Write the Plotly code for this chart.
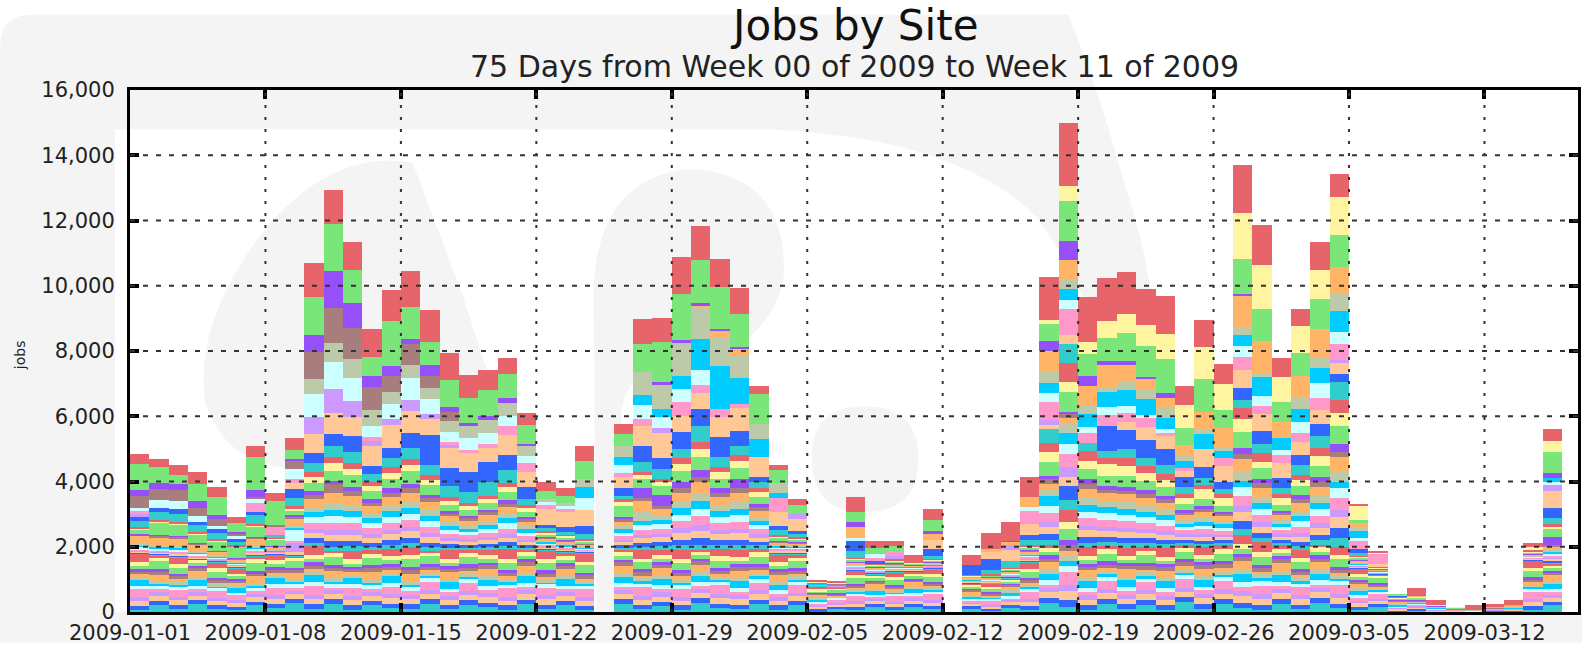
import plotly.graph_objects as go

# ---------------- categories ----------------
dates = [
    "2009-01-01","2009-01-02","2009-01-03","2009-01-04","2009-01-05","2009-01-06","2009-01-07",
    "2009-01-08","2009-01-09","2009-01-10","2009-01-11","2009-01-12","2009-01-13","2009-01-14",
    "2009-01-15","2009-01-16","2009-01-17","2009-01-18","2009-01-19","2009-01-20","2009-01-21",
    "2009-01-22","2009-01-23","2009-01-24","2009-01-25","2009-01-26","2009-01-27","2009-01-28",
    "2009-01-29","2009-01-30","2009-01-31","2009-02-01","2009-02-02","2009-02-03","2009-02-04",
    "2009-02-05","2009-02-06","2009-02-07","2009-02-08","2009-02-09","2009-02-10","2009-02-11",
    "2009-02-12","2009-02-13","2009-02-14","2009-02-15","2009-02-16","2009-02-17","2009-02-18",
    "2009-02-19","2009-02-20","2009-02-21","2009-02-22","2009-02-23","2009-02-24","2009-02-25",
    "2009-02-26","2009-02-27","2009-02-28","2009-03-01","2009-03-02","2009-03-03","2009-03-04",
    "2009-03-05","2009-03-06","2009-03-07","2009-03-08","2009-03-09","2009-03-10","2009-03-11",
    "2009-03-12","2009-03-13","2009-03-14","2009-03-15","2009-03-16",
]
x_tick_vals = ["2009-01-01","2009-01-08","2009-01-15","2009-01-22","2009-01-29","2009-02-05",
               "2009-02-12","2009-02-19","2009-02-26","2009-03-05","2009-03-12"]
x_tick_text = x_tick_vals
y_tick_vals = [0, 2000, 4000, 6000, 8000, 10000, 12000, 14000, 16000]
y_tick_text = ["0", "2,000", "4,000", "6,000", "8,000", "10,000", "12,000", "14,000", "16,000"]

# ---------------- series values (jobs per day) ----------------
# largest sites (top of the stack)
site_a01 = [310,230,300,380,320,180,323,250,384,1030,1030,879,858,960,1110,980,828,717,606,495,374,250,250,455,0,300,758,737,1111,1030,858,778,252,170,180,30,30,454,200,170,200,323,0,300,505,576,626,1313,1939,1373,1333,1283,1101,1182,586,828,606,1485,1232,606,525,838,727,50,30,0,200,100,0,80,40,120,110,384,0]
site_a02 = [0,0,0,0,0,0,0,0,0,0,0,0,0,0,0,0,0,0,0,0,0,0,0,0,0,0,0,0,0,0,0,0,0,0,0,0,0,0,0,0,0,0,0,0,0,0,0,121,465,374,505,586,636,768,707,990,808,1414,1364,757,828,909,1162,454,50,0,0,0,0,0,0,0,100,323,0]
site_a03 = [780,505,300,525,535,270,1010,730,273,1160,1424,990,576,1380,980,707,808,778,808,737,586,250,220,555,0,350,858,1230,1414,1313,1262,1010,909,400,300,0,0,303,200,150,0,354,0,0,0,0,0,505,1212,657,707,858,960,1030,505,1010,555,1060,960,606,687,909,960,100,0,0,0,0,0,0,0,0,0,636,0]
site_a04 = [200,170,170,200,120,50,222,0,50,525,1162,778,364,300,150,354,150,50,100,150,50,0,0,0,0,0,0,80,100,100,50,60,0,0,0,0,0,150,0,0,0,50,0,0,0,30,0,323,606,303,150,131,50,150,0,0,0,50,0,0,0,0,0,0,0,0,0,0,0,0,0,0,0,172,0]
site_a05 = [370,333,333,250,230,80,80,50,250,840,1050,960,707,500,660,353,270,0,0,0,0,0,0,0,0,0,0,0,0,0,0,0,0,0,0,0,0,0,0,0,0,0,0,0,0,0,0,0,0,0,0,0,0,0,0,0,0,0,0,0,0,0,0,0,0,0,0,0,0,0,0,0,0,0,0]
site_a06 = [0,0,0,0,0,0,0,0,0,0,0,0,0,0,0,0,0,0,0,0,0,0,0,0,0,0,0,0,0,50,250,192,0,0,0,0,0,354,0,0,0,200,0,0,100,100,303,636,576,606,658,500,354,303,354,505,606,960,990,505,656,858,858,100,0,0,0,0,0,0,0,0,0,0,0]
site_a07 = [0,0,0,0,0,0,0,0,0,455,586,586,475,350,400,354,350,400,400,400,323,100,80,250,0,350,707,727,1010,960,858,707,454,300,0,0,0,0,0,0,0,0,0,0,0,0,0,354,303,252,150,250,252,303,150,150,100,252,120,0,354,354,505,150,0,0,0,0,0,0,0,0,0,0,0]
site_a08 = [0,0,0,0,0,0,0,0,0,0,0,0,0,0,0,0,0,0,0,0,0,0,0,350,0,250,303,250,404,960,1313,808,555,150,0,0,0,0,0,0,0,0,0,0,0,0,0,303,333,404,454,500,505,354,200,454,200,333,600,354,404,454,656,200,0,0,0,0,0,0,0,0,0,100,0]
site_a09 = [80,250,250,180,100,70,100,0,300,710,828,707,323,450,660,454,300,350,350,300,200,100,100,350,0,250,454,350,404,450,0,0,0,0,0,0,0,100,100,0,0,0,0,0,0,0,100,252,273,202,252,200,100,100,0,0,0,323,300,150,354,454,354,100,0,0,0,0,0,0,0,0,0,100,0]
site_a10 = [100,0,0,0,0,0,300,250,150,0,0,0,131,0,0,0,100,100,120,300,303,100,100,0,0,100,200,0,404,250,250,100,0,450,0,0,0,0,100,150,0,0,0,0,0,0,404,555,808,303,353,300,252,100,100,0,250,406,250,252,252,354,505,250,300,0,0,0,0,0,0,0,0,0,0]
site_a11 = [100,0,0,0,0,0,0,0,0,525,737,475,150,200,350,150,100,0,0,0,0,0,0,0,0,0,0,150,0,0,0,0,0,0,150,0,0,0,0,100,0,0,0,0,0,150,0,150,0,0,0,0,0,0,0,0,0,0,0,0,0,0,50,0,0,0,0,0,0,0,0,0,0,202,0]
site_a12 = [0,0,0,0,0,0,0,0,180,590,656,576,626,700,660,507,600,600,430,586,455,500,450,500,0,350,606,757,505,500,606,708,606,400,350,0,0,0,0,0,0,300,0,0,200,354,354,150,273,0,0,250,404,404,200,555,505,555,500,454,404,454,354,0,100,0,0,0,0,0,0,0,0,505,0]
site_a13 = [100,120,150,100,100,100,80,0,270,280,374,485,232,300,450,909,555,600,600,475,354,100,150,250,0,250,505,354,505,500,606,454,150,150,100,0,0,303,100,0,0,200,0,300,330,0,150,0,0,0,757,555,555,505,303,354,200,354,400,300,303,354,252,100,0,0,0,0,0,0,0,0,0,303,0]
site_a14 = [200,250,250,220,200,100,270,100,250,300,333,354,250,300,350,303,353,350,450,400,200,100,100,150,0,100,303,303,300,500,303,303,200,150,100,0,0,200,0,0,0,100,0,0,150,200,150,404,566,253,202,300,252,252,200,202,150,252,300,200,303,354,556,100,0,0,0,0,0,0,0,0,0,202,0]

# medium sites
site_b01 = [40,50,50,40,30,30,50,20,60,150,180,170,140,160,170,150,100,90,100,130,90,40,30,30,0,90,100,100,180,220,170,180,120,40,30,10,10,30,20,30,20,20,0,20,20,20,40,300,600,300,200,250,200,200,120,140,120,350,250,120,150,250,400,30,20,0,10,0,0,0,0,0,30,80,0]
site_b02 = [30,40,40,30,30,20,40,20,60,180,250,200,150,180,200,170,120,110,120,150,100,40,40,30,0,100,120,120,200,250,190,200,140,40,40,10,10,30,20,30,20,20,0,20,20,20,40,300,303,250,350,300,250,200,200,300,250,400,200,200,200,300,400,30,20,0,10,0,0,0,0,0,30,60,0]
site_b03 = [150,380,350,250,300,350,300,200,150,250,300,354,250,300,400,280,200,180,200,250,170,80,70,60,0,350,280,250,330,400,300,330,230,80,60,10,10,50,40,40,40,40,0,30,30,40,60,420,600,300,320,320,290,270,180,210,170,470,320,180,280,350,540,50,20,10,10,10,0,0,0,10,40,252,0]
site_b04 = [20,20,20,20,10,10,30,10,40,110,60,130,100,130,130,120,80,70,80,100,70,30,30,20,0,70,300,350,200,200,130,300,100,30,30,10,10,20,20,20,20,20,0,10,10,20,30,100,50,150,130,130,120,110,80,90,70,200,130,80,120,150,250,20,10,0,0,0,0,0,0,0,20,252,0]
site_b05 = [30,40,40,30,20,20,40,20,60,120,310,150,110,130,130,120,80,80,90,100,70,30,30,20,0,70,90,90,140,170,130,140,100,30,20,10,10,20,10,20,10,10,0,10,10,10,20,150,150,150,60,80,120,110,80,90,70,150,150,70,120,150,150,20,10,0,0,0,0,0,0,0,10,40,0]
site_b06 = [230,230,230,200,100,80,200,100,200,250,300,270,220,260,270,240,170,150,170,200,140,60,60,50,0,140,350,200,280,330,260,280,190,60,50,10,10,40,30,40,30,30,0,30,30,30,50,150,150,290,270,270,240,220,150,180,150,390,270,150,240,290,450,40,20,10,10,0,0,0,0,0,30,90,0]
site_b07 = [60,60,70,50,40,30,60,20,80,160,200,190,150,180,190,170,120,100,120,140,100,40,40,30,0,100,260,130,200,230,180,200,130,40,40,10,10,30,20,30,20,20,0,20,20,20,40,220,320,200,190,190,170,160,100,120,100,270,190,100,160,200,320,30,20,0,0,0,0,0,0,0,20,60,0]
site_b08 = [30,40,40,30,30,30,40,20,50,160,200,190,150,180,190,170,120,100,120,140,100,40,40,30,0,100,130,130,200,250,180,200,130,40,40,10,10,30,20,30,20,20,0,20,20,20,40,303,320,200,190,190,170,160,100,120,100,200,190,100,160,200,200,30,20,10,0,0,0,0,0,0,20,50,0]
site_b09 = [100,60,70,50,40,30,60,20,350,160,200,190,150,180,190,170,120,100,120,200,100,40,40,30,0,100,150,150,200,230,180,200,130,40,40,10,10,30,20,30,20,20,0,20,20,20,40,220,300,200,190,190,170,160,100,120,100,270,190,100,160,200,300,30,20,0,0,0,0,0,0,0,20,60,0]
site_b10 = [40,50,50,40,30,30,50,20,60,190,230,220,180,210,220,190,130,120,140,160,110,50,40,40,0,110,150,160,220,270,210,220,150,50,40,10,10,30,30,30,30,30,0,20,20,30,40,260,404,230,210,210,190,180,120,140,120,310,220,120,190,230,360,30,20,10,10,0,0,0,0,0,20,70,0]
site_b11 = [20,20,20,20,10,10,20,10,300,120,140,140,110,130,130,120,80,70,80,100,70,30,30,20,0,70,90,100,140,170,130,140,100,30,30,10,10,20,20,20,20,20,0,20,20,20,30,160,303,150,130,130,120,110,80,90,70,200,130,80,120,150,230,20,10,0,0,0,0,0,0,0,20,40,0]
site_b12 = [30,40,40,30,20,30,40,20,60,160,200,190,150,180,190,170,120,100,120,140,100,40,40,30,0,100,150,150,200,230,180,200,130,40,40,10,10,30,20,30,20,20,0,20,20,20,40,220,300,200,190,190,170,160,100,120,100,270,190,100,160,200,320,30,20,0,0,0,0,0,0,0,20,60,0]
site_b13 = [30,40,40,30,20,20,40,20,50,140,170,160,130,160,160,140,100,90,100,120,80,40,30,30,0,80,120,130,170,200,160,170,110,40,30,10,10,20,20,20,20,20,0,20,20,20,30,190,404,170,160,160,140,130,90,110,90,230,160,90,140,170,300,20,10,10,0,0,0,0,0,0,20,50,0]
site_b14 = [10,20,20,20,20,20,20,10,30,110,140,130,110,130,130,120,80,70,80,100,70,30,30,20,0,70,100,100,140,170,130,140,100,30,30,10,10,20,20,20,20,20,0,20,20,20,30,160,303,150,130,130,120,110,80,90,70,200,130,80,120,150,300,20,10,0,0,0,0,0,0,0,20,40,0]

# many small sites (bottom of the stack)
site_c01 = [240,60,200,0,180,160,100,160,10,260,50,270,100,210,240,40,250,90,170,280,70,240,90,250,0,60,260,150,270,30,210,220,110,220,110,100,30,140,50,150,60,140,0,30,100,50,190,70,370,270,90,240,120,260,50,230,110,270,290,100,220,70,220,170,40,60,10,30,0,20,10,10,210,40,0]
site_c02 = [130,110,120,100,110,90,120,130,110,140,120,140,120,130,140,120,140,120,130,140,120,130,120,110,0,130,120,140,130,120,140,120,130,120,110,50,50,90,80,80,80,90,0,60,60,70,100,140,220,130,140,130,140,130,140,130,140,160,150,130,130,140,130,90,80,30,30,20,10,10,10,20,110,100,0]
site_c03 = [90,230,200,80,190,60,220,90,210,100,240,80,230,100,220,250,90,230,100,220,90,230,100,220,0,110,210,90,230,100,220,90,230,100,200,30,100,160,60,150,50,160,0,40,110,40,190,90,350,100,230,100,230,110,240,90,240,130,250,100,230,100,240,60,150,20,60,10,20,0,30,10,190,70,0]
site_c04 = [80,90,70,80,70,60,90,80,80,100,90,80,100,90,100,80,90,100,80,90,90,100,90,90,0,80,90,100,90,80,100,90,90,90,100,40,30,60,50,60,60,60,0,40,40,50,70,100,150,90,100,90,100,90,90,100,90,110,100,100,90,100,90,60,50,20,20,10,10,10,10,10,70,70,0]
site_c05 = [90,100,80,90,80,70,90,90,90,110,100,90,110,100,110,100,90,110,100,100,110,100,90,100,0,100,110,90,100,110,100,110,100,90,90,40,40,70,60,70,60,70,0,50,50,50,80,110,170,100,110,100,110,100,110,100,110,120,110,110,100,110,100,70,60,30,30,10,10,10,10,10,80,80,0]
site_c06 = [60,190,90,190,40,80,200,50,180,70,220,60,230,90,230,80,210,80,240,60,220,70,220,70,0,230,60,210,80,230,60,230,80,210,70,90,30,50,140,50,150,40,0,110,30,120,40,230,150,240,70,230,80,220,80,230,90,260,90,240,70,230,80,140,40,60,20,30,0,20,0,30,60,170,0]
site_c07 = [100,100,100,90,90,80,100,110,100,120,110,110,100,110,120,110,110,100,110,120,110,110,100,100,0,110,100,110,120,110,110,100,110,100,100,50,40,70,70,70,70,80,0,50,50,60,90,120,180,110,120,110,120,110,120,110,120,140,120,120,110,120,110,80,70,30,30,10,10,10,10,10,90,90,0]
site_c08 = [180,50,40,180,30,150,30,190,50,200,60,190,70,200,70,40,190,70,190,60,200,40,190,50,0,190,80,190,50,200,50,210,70,170,60,90,10,40,120,30,130,40,0,90,20,120,40,210,130,210,60,210,60,200,70,210,70,230,80,210,60,210,70,140,30,60,10,30,0,20,0,30,50,160,0]
site_c09 = [110,110,110,100,100,80,110,110,110,130,120,120,110,120,130,120,110,120,130,120,120,110,120,110,0,120,110,120,130,120,110,120,120,110,110,50,50,80,70,80,80,80,0,50,60,60,100,130,200,120,130,120,130,120,130,120,130,150,140,130,120,130,120,80,70,30,30,20,10,10,10,20,100,90,0]
site_c10 = [250,90,200,80,220,150,90,240,100,260,90,250,110,230,100,250,110,240,90,260,100,240,90,230,0,100,260,110,250,90,260,100,240,90,230,40,100,160,50,160,60,180,0,40,120,50,220,110,380,100,260,110,250,120,260,110,250,140,270,100,250,110,260,80,150,20,70,10,20,0,30,10,200,80,0]
site_c11 = [110,110,100,110,90,90,100,110,110,120,120,130,120,110,120,130,120,110,120,120,130,120,110,120,0,120,120,130,110,120,130,120,120,110,110,50,50,80,70,80,80,80,0,50,60,70,100,130,200,130,120,130,120,130,130,130,130,150,140,130,120,130,130,80,70,30,30,20,10,10,10,20,100,90,0]
site_c12 = [150,140,150,130,130,110,140,150,140,170,150,160,150,170,170,150,160,170,160,150,160,160,150,150,0,160,170,160,150,160,170,160,160,150,150,70,60,110,100,100,100,110,0,70,70,90,130,170,260,170,170,160,170,160,170,170,170,200,180,170,160,170,170,110,100,40,40,20,10,10,20,20,130,130,0]
site_c13 = [130,130,120,120,110,100,120,130,120,150,140,140,140,130,150,140,140,140,140,140,140,140,140,130,0,140,130,140,140,140,140,140,140,130,130,60,60,90,90,90,90,100,0,60,60,80,110,150,230,150,150,150,150,150,150,150,150,170,160,150,140,150,150,100,90,40,40,20,10,10,10,20,120,110,0]
site_c14 = [60,220,100,250,90,60,200,120,280,90,250,60,200,130,90,260,80,220,150,60,240,90,200,60,0,250,80,170,60,280,120,90,240,70,200,30,110,60,150,50,160,80,0,120,40,130,60,280,150,60,260,90,220,60,300,100,240,120,60,250,90,280,110,60,150,20,60,10,20,0,30,30,60,200,0]

# ---------------- colours (one palette cycle, top -> bottom) ----------------
RED, YELLOW, GREEN, PURPLE = "#e6646a", "#fff4a0", "#7ae67a", "#9650fa"
MAUVE, ORANGE, SAGE, CYAN = "#a87d7d", "#ffb468", "#bccaaa", "#00ccff"
LCYAN, PINK, LAVENDER, PEACH = "#ccffff", "#ff99cc", "#cc99ff", "#ffc896"
BLUE, TEAL = "#3366ff", "#33cccc"
palette = [RED, YELLOW, GREEN, PURPLE, MAUVE, ORANGE, SAGE, CYAN,
           LCYAN, PINK, LAVENDER, PEACH, BLUE, TEAL]

group_a = [site_a01, site_a02, site_a03, site_a04, site_a05, site_a06, site_a07,
           site_a08, site_a09, site_a10, site_a11, site_a12, site_a13, site_a14]
group_b = [site_b01, site_b02, site_b03, site_b04, site_b05, site_b06, site_b07,
           site_b08, site_b09, site_b10, site_b11, site_b12, site_b13, site_b14]
group_c = [site_c01, site_c02, site_c03, site_c04, site_c05, site_c06, site_c07,
           site_c08, site_c09, site_c10, site_c11, site_c12, site_c13, site_c14]

# stacking: first trace is at the bottom
stack = []
for gname, grp in (("C", group_c), ("B", group_b), ("A", group_a)):
    for i in reversed(range(len(grp))):
        stack.append((f"Site {gname}{i+1:02d}", grp[i], palette[i]))

fig = go.Figure()
DAY_MS = 86400000
for name, vals, col in stack:
    fig.add_trace(go.Bar(
        x=dates, y=vals, name=name, offset=0, width=DAY_MS,
        marker=dict(color=col, line=dict(width=0)),
        hovertemplate="%{x}: %{y}<extra>" + name + "</extra>",
    ))

# ---------------- geometry helpers (pixel -> paper) ----------------
W, H = 1585, 649
ML, MR, MT, MB = 130, 4, 90, 31
PW, PH = W - ML - MR, H - MT - MB

def px(x):
    return (x - ML) / PW

def py(y):
    return (H - MB - y) / PH

def path(points_cmds):
    out = []
    for cmd, *pts in points_cmds:
        coords = " ".join(f"{px(a):.5f},{py(b):.5f}" for a, b in pts)
        out.append(f"{cmd} {coords}".strip())
    return " ".join(out)

GRAY = "#f4f4f4"
shapes = []

def add_path(cmds, color):
    shapes.append(dict(type="path", xref="paper", yref="paper", layer="below",
                       line=dict(width=0), fillcolor=color, path=path(cmds)))

# light grey rounded panel behind everything
add_path([("M", (0, 46)), ("Q", (0, 14), (32, 14)), ("L", (W, 14)), ("L", (W, H)),
          ("L", (0, H)), ("Z",)], GRAY)
# white drawing area, its upper-right edge follows the watermark arc
add_path([("M", (115, 130)), ("L", (770, 130)), ("Q", (960, 138), (1040, 220)),
          ("Q", (1110, 320), (1124, 450)), ("L", (1128, 618)), ("L", (115, 618)), ("Z",)], "white")
# white region right of the arc
add_path([("M", (1064, 0)), ("L", (W, 0)), ("L", (W, 618)), ("L", (1172, 618)),
          ("Q", (1176, 330), (1128, 190)), ("Q", (1095, 70), (1064, 0)), ("Z",)], "white")
# faint watermark blobs inside the drawing area
add_path([("M", (413, 163)), ("Q", (330, 150), (262, 235)), ("Q", (192, 330), (206, 408)),
          ("Q", (226, 466), (285, 472)), ("L", (520, 472)), ("L", (463, 297)), ("Z",)], GRAY)
add_path([("M", (597, 618)), ("L", (595, 330)), ("Q", (585, 180), (690, 170)),
          ("Q", (790, 175), (785, 280)), ("Q", (770, 360), (660, 372)), ("Q", (625, 380), (622, 420)),
          ("L", (622, 618)), ("Z",)], GRAY)
add_path([("M", (813, 463)), ("Q", (813, 410), (866, 410)), ("Q", (920, 410), (920, 463)),
          ("Q", (920, 517), (866, 517)), ("Q", (813, 517), (813, 463)), ("Z",)], GRAY)

# grid lines drawn above bars
for tv in x_tick_vals[1:]:
    shapes.append(dict(type="line", xref="x", yref="paper", x0=tv, x1=tv, y0=0, y1=1,
                       layer="above", line=dict(color="#333333", width=2, dash="3px,9px")))
for tv in y_tick_vals[1:-1]:
    shapes.append(dict(type="line", xref="paper", yref="y", x0=0, x1=1, y0=tv, y1=tv,
                       layer="above", line=dict(color="#333333", width=2, dash="5px,8px")))

annotations = [
    dict(text="Jobs by Site", x=0.5, y=py(25), xref="paper", yref="paper", showarrow=False,
         xanchor="center", yanchor="middle", font=dict(size=42, color="#111111")),
    dict(text="75 Days from Week 00 of 2009 to Week 11 of 2009", x=0.5, y=py(66),
         xref="paper", yref="paper", showarrow=False, xanchor="center", yanchor="middle",
         font=dict(size=30, color="#222222")),
    dict(text="jobs", x=px(20), y=py(358), xref="paper", yref="paper", showarrow=False,
         textangle=-90, xanchor="center", yanchor="middle", font=dict(size=14, color="#222222")),
]

fig.update_layout(
    width=W, height=H, autosize=False,
    margin=dict(l=ML, r=MR, t=MT, b=MB, pad=0),
    barmode="stack", bargap=0, showlegend=False,
    paper_bgcolor="white", plot_bgcolor="rgba(0,0,0,0)",
    font=dict(family="DejaVu Sans", color="#222222"),
    shapes=shapes, annotations=annotations,
)
fig.update_xaxes(
    type="date", range=["2009-01-01", "2009-03-16 20:00"],
    tickmode="array", tickvals=x_tick_vals, ticktext=x_tick_text,
    ticks="inside", ticklen=9, tickwidth=4, tickcolor="black",
    showline=True, linewidth=3, linecolor="black", mirror="ticks",
    showgrid=False, zeroline=False, layer="above traces",
    tickfont=dict(size=21, color="#222222"),
)
fig.update_yaxes(
    range=[0, 16000], tickmode="array", tickvals=y_tick_vals, ticktext=y_tick_text,
    ticks="inside", ticklen=9, tickwidth=4, tickcolor="black",
    showline=True, linewidth=3, linecolor="black", mirror="ticks",
    showgrid=False, zeroline=False, layer="above traces",
    tickfont=dict(size=21, color="#222222"), ticklabelstandoff=8,
)

fig.write_html("out.html", config={"displayModeBar": False},
               post_script="document.body.style.margin='0';")
